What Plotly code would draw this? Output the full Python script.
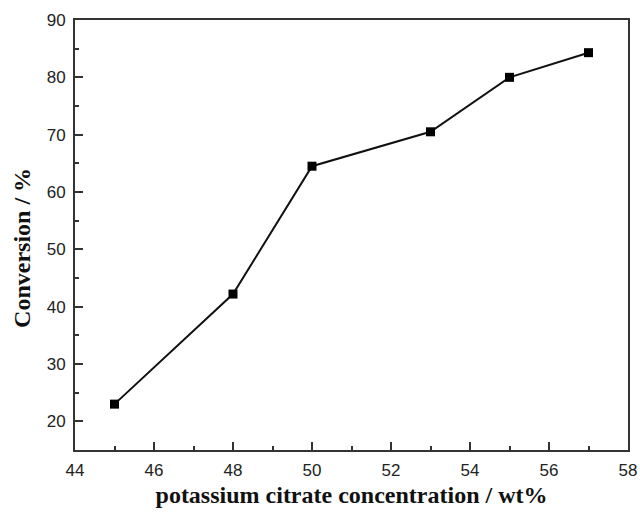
import plotly.graph_objects as go

concentration = [45, 48, 50, 53, 55, 57]
conversion = [23.0, 42.2, 64.5, 70.5, 80.0, 84.3]

x_ticks = [44, 46, 48, 50, 52, 54, 56, 58]
y_ticks = [20, 30, 40, 50, 60, 70, 80, 90]

fig = go.Figure()
fig.add_trace(go.Scatter(
    x=concentration, y=conversion, mode="lines+markers",
    line=dict(color="#111111", width=2),
    marker=dict(symbol="square", size=9, color="#000000"),
    showlegend=False,
))

axis_common = dict(
    showline=True, linecolor="#333333", linewidth=2, mirror=True,
    ticks="inside", ticklen=8, tickwidth=2, tickcolor="#333333",
    showgrid=False, zeroline=False, automargin=False,
    tickfont=dict(family="Liberation Sans, Arial", size=17, color="#222222"),
)

title_font = dict(family="Liberation Serif, Times New Roman", size=24, color="#111111", weight="bold")

fig.update_xaxes(
    range=[44, 58], tickvals=x_ticks,
    minor=dict(ticks="inside", ticklen=4, tickwidth=2, tickcolor="#333333", dtick=1, tick0=44),
    ticklabelstandoff=4,
    title=dict(text="potassium citrate concentration / wt%", font=title_font, standoff=7),
    **axis_common,
)
fig.update_yaxes(
    range=[15, 90], tickvals=y_ticks,
    minor=dict(ticks="inside", ticklen=4, tickwidth=2, tickcolor="#333333", dtick=5, tick0=15),
    ticklabelstandoff=4,
    **axis_common,
)

fig.add_annotation(
    text="Conversion / %", xref="paper", yref="paper",
    x=-0.0958, y=0.47, xanchor="center", yanchor="middle",
    textangle=-90, showarrow=False, font=title_font,
)

fig.update_layout(
    width=640, height=515,
    margin=dict(l=75, r=12, t=20, b=65),
    plot_bgcolor="white", paper_bgcolor="white",
)

fig.write_html("out.html")
